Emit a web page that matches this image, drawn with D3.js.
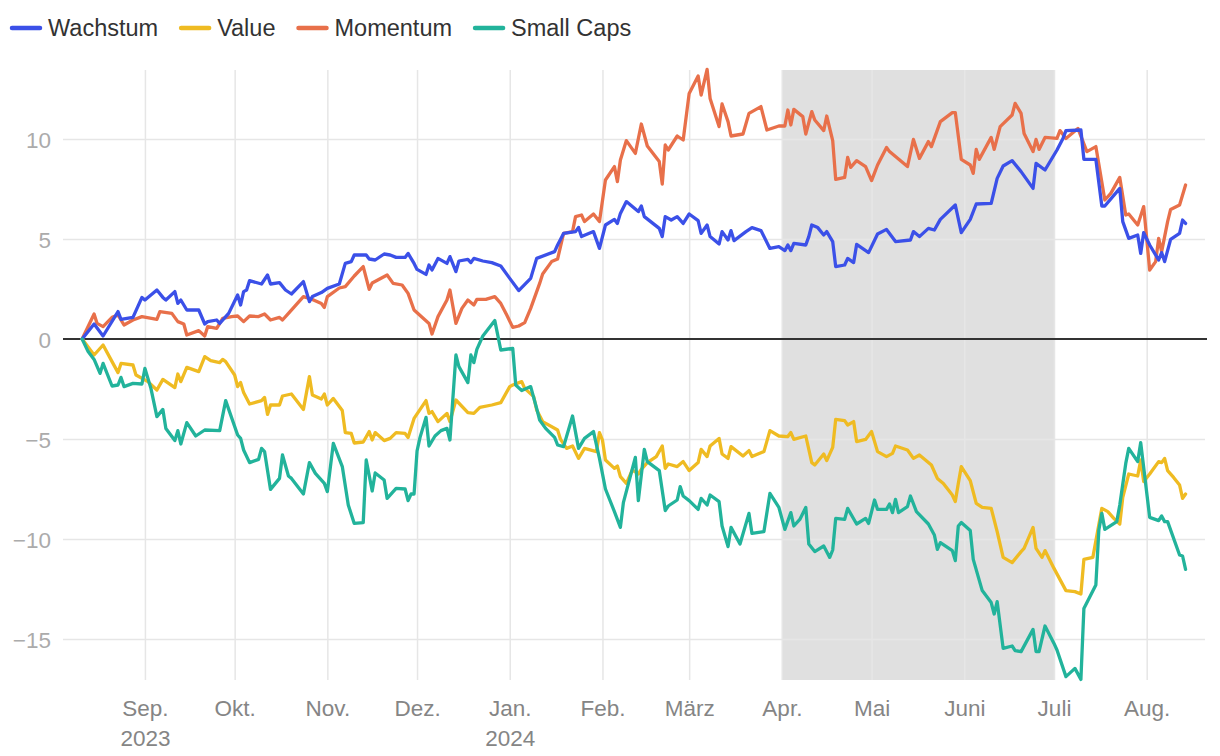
<!DOCTYPE html>
<html><head><meta charset="utf-8">
<script src="https://cdn.jsdelivr.net/npm/d3@7"></script>
<style>
html,body{margin:0;padding:0;background:#fff;}
svg{display:block;font-family:"Liberation Sans",Arial,sans-serif;}
</style></head>
<body><svg id="c" width="1220" height="756"></svg>
<script>
// ---- data (day offsets from startDate, value in %) ----
const startDate = "2023-08-11";
const seriesNames = ["Wachstum", "Value", "Momentum", "Small Caps"];
const seriesColors = ["#3b50e8", "#efbb22", "#e8704a", "#22b39b"];
const monthLabels = ["Sep.", "Okt.", "Nov.", "Dez.", "Jan.", "Feb.", "März", "Apr.", "Mai", "Juni", "Juli", "Aug."];
const yearLabels = {"Sep.": "2023", "Jan.": "2024"};
const yTicks = [-15, -10, -5, 0, 5, 10];
const shadedPeriod = ["2024-04-01", "2024-07-01"];

const wachstum = [[0,0],[4,0.75],[7,0.15],[12,1.37],[13,0.98],[17,1.08],[20,2.08],[21,1.95],[25,2.45],[27,2.08],[28,1.95],[31,2.37],[32,1.78],[33,1.95],[35,1.45],[39,1.45],[41,0.75],[42,0.87],[45,0.95],[46,0.78],[49,1.28],[52,2.2],[53,1.7],[54,2.37],[55,2.45],[56,2.92],[60,2.75],[62,3.2],[63,2.75],[66,2.82],[68,2.45],[70,2.25],[74,2.87],[76,1.87],[77,2.12],[80,2.32],[82,2.53],[86,2.75],[88,3.78],[90,3.87],[91,4.2],[95,4.2],[96,4.0],[98,3.95],[101,4.25],[103,4.2],[105,4.08],[108,4.08],[109,4.28],[111,3.78],[112,3.48],[115,3.23],[116,3.7],[117,3.45],[119,4.03],[122,3.78],[123,4.12],[125,3.37],[126,3.9],[129,3.98],[130,3.82],[131,4.03],[134,3.9],[137,3.82],[140,3.65],[143,3.03],[146,2.42],[150,3.03],[152,4.03],[158,4.37],[159,4.7],[161,5.28],[165,5.37],[166,5.58],[167,5.12],[171,5.37],[173,4.53],[175,5.7],[178,5.98],[179,5.78],[180,6.28],[182,6.87],[186,6.37],[187,6.65],[188,6.12],[193,5.53],[194,5.12],[195,6.12],[197,5.95],[199,6.12],[201,5.78],[203,6.25],[206,5.92],[207,5.28],[209,5.7],[210,5.12],[213,4.75],[214,5.37],[216,4.95],[217,5.42],[218,4.92],[222,5.37],[224,5.57],[227,5.42],[230,4.53],[233,4.62],[235,4.42],[236,4.7],[237,4.42],[238,4.78],[242,4.7],[243,5.12],[244,5.7],[246,5.57],[248,5.2],[249,5.37],[251,4.87],[252,3.62],[255,3.7],[256,4.03],[258,3.82],[259,4.73],[263,4.32],[266,5.25],[269,5.48],[272,4.87],[277,4.95],[278,5.37],[280,5.12],[283,5.53],[285,5.45],[287,5.98],[292,6.7],[294,5.32],[297,5.98],[299,6.75],[304,6.78],[306,8.03],[308,8.65],[311,8.92],[314,8.37],[318,7.53],[319,8.78],[322,8.45],[326,9.45],[328,10.03],[329,10.42],[334,10.45],[335,8.98],[339,8.98],[341,6.65],[342,6.65],[347,7.53],[348,5.87],[350,5.03],[353,5.2],[354,4.28],[355,5.32],[357,4.7],[360,3.95],[361,4.32],[362,3.87],[364,4.98],[367,5.28],[368,5.95],[369,5.78]];

const value = [[0,0],[4,-0.8],[7,-0.3],[10,-1.13],[12,-1.68],[13,-1.22],[17,-1.3],[18,-1.8],[22,-2.13],[25,-2.55],[27,-2.02],[31,-2.43],[32,-1.75],[33,-2.13],[35,-1.42],[39,-1.63],[41,-0.88],[43,-1.08],[46,-1.18],[47,-1.02],[48,-1.13],[51,-1.8],[52,-2.38],[53,-2.18],[54,-2.68],[56,-3.25],[60,-3.08],[61,-2.92],[62,-3.77],[63,-3.3],[66,-3.3],[67,-2.85],[70,-2.75],[74,-3.52],[76,-1.88],[77,-2.8],[80,-3.0],[81,-2.75],[82,-3.3],[84,-2.97],[87,-3.58],[88,-4.68],[90,-4.72],[91,-5.2],[94,-5.15],[96,-4.63],[97,-5.05],[98,-4.68],[101,-5.08],[103,-4.97],[105,-4.68],[108,-4.72],[109,-4.92],[111,-3.97],[115,-3.08],[116,-3.72],[117,-3.63],[119,-4.13],[122,-3.72],[123,-4.13],[125,-3.05],[129,-3.68],[131,-3.72],[133,-3.42],[137,-3.3],[140,-3.18],[143,-2.38],[144,-2.3],[147,-2.13],[148,-2.47],[151,-2.88],[152,-3.55],[154,-4.13],[159,-4.55],[160,-5.02],[162,-5.47],[164,-5.35],[166,-5.97],[168,-5.47],[172,-5.63],[173,-4.68],[174,-5.05],[175,-6.05],[178,-6.47],[179,-6.35],[180,-6.88],[182,-7.22],[184,-6.55],[186,-6.75],[187,-6.52],[189,-6.18],[192,-5.88],[194,-5.35],[195,-6.47],[196,-6.25],[199,-6.38],[201,-6.13],[203,-6.58],[206,-6.18],[207,-5.52],[209,-5.88],[210,-5.35],[213,-4.97],[214,-5.75],[216,-5.97],[217,-5.38],[221,-5.85],[223,-5.58],[224,-5.88],[228,-5.63],[230,-4.58],[233,-4.85],[236,-4.88],[237,-4.68],[238,-5.02],[242,-4.85],[244,-6.18],[245,-6.3],[248,-5.75],[249,-6.08],[251,-5.42],[252,-4.02],[255,-4.08],[256,-4.3],[258,-4.13],[259,-5.13],[262,-5.02],[264,-4.63],[266,-5.63],[269,-5.88],[271,-5.72],[272,-5.35],[276,-5.55],[278,-5.97],[280,-5.8],[284,-6.3],[286,-6.97],[288,-7.22],[291,-7.8],[292,-8.13],[293,-7.22],[294,-6.38],[297,-7.08],[299,-8.22],[301,-8.42],[304,-8.47],[306,-9.63],[308,-10.92],[311,-11.18],[314,-10.63],[315,-10.47],[318,-9.42],[319,-10.47],[321,-10.92],[322,-10.58],[325,-11.47],[329,-12.58],[332,-12.63],[334,-12.75],[335,-11.02],[338,-10.92],[341,-8.47],[343,-8.63],[345,-8.97],[347,-9.25],[348,-7.92],[350,-6.75],[353,-6.85],[354,-6.05],[355,-7.13],[357,-6.75],[360,-6.13],[361,-6.18],[362,-5.97],[363,-6.58],[365,-6.92],[367,-7.3],[368,-7.97],[369,-7.75]];

const momentum = [[0,0],[4,1.25],[5,0.78],[7,0.62],[10,1.08],[12,1.2],[14,0.7],[17,0.95],[20,1.12],[25,0.98],[26,1.37],[30,1.28],[32,0.87],[34,0.75],[35,0.2],[39,0.42],[41,0.15],[42,0.62],[45,0.53],[47,1.03],[50,1.12],[52,1.15],[54,0.87],[56,1.15],[59,1.12],[61,1.25],[63,0.95],[66,1.08],[67,0.95],[69,1.28],[74,2.12],[77,1.98],[80,1.78],[81,1.58],[82,2.12],[86,2.55],[88,2.62],[91,3.15],[94,3.62],[96,2.48],[97,2.8],[102,3.2],[104,2.78],[107,2.7],[109,2.28],[111,1.45],[116,0.78],[117,0.25],[119,1.12],[122,1.95],[123,2.45],[125,0.78],[127,1.53],[129,1.95],[131,1.7],[132,1.98],[135,1.98],[138,2.12],[140,1.78],[142,1.2],[144,0.58],[146,0.65],[148,0.82],[150,1.53],[153,2.78],[154,3.25],[157,3.87],[159,4.0],[161,5.28],[164,5.37],[165,6.12],[167,6.2],[168,5.87],[171,6.25],[173,5.87],[175,7.95],[178,8.62],[179,7.87],[180,8.95],[182,9.92],[185,9.28],[187,10.75],[189,9.65],[193,8.87],[194,7.75],[195,9.7],[196,9.45],[199,10.15],[201,9.95],[203,12.28],[206,13.15],[207,12.2],[209,13.48],[210,12.03],[213,10.62],[214,11.75],[216,10.87],[217,10.15],[221,10.25],[223,11.28],[227,11.62],[229,10.45],[233,10.65],[235,10.65],[236,11.45],[237,10.7],[238,11.48],[241,11.12],[242,10.25],[244,11.37],[245,10.95],[248,10.42],[249,11.15],[251,9.92],[252,7.98],[255,8.08],[256,9.08],[257,8.58],[259,8.92],[262,8.62],[264,7.92],[266,8.7],[269,9.58],[270,9.37],[272,9.12],[276,8.62],[278,9.98],[280,9.03],[283,9.87],[284,9.62],[287,10.87],[291,11.32],[292,11.32],[294,8.98],[297,8.7],[298,8.28],[299,9.48],[300,8.98],[304,10.08],[305,9.48],[307,10.62],[311,11.2],[312,11.78],[314,11.28],[315,10.28],[318,9.37],[319,9.98],[320,9.48],[322,10.08],[326,10.03],[327,10.42],[329,10.03],[333,10.53],[336,9.37],[339,9.62],[342,6.95],[344,7.28],[347,8.08],[349,6.2],[350,6.25],[353,5.7],[355,6.62],[357,3.45],[359,3.87],[360,5.03],[361,4.37],[363,5.87],[364,6.48],[367,6.7],[369,7.7]];

const smallCaps = [[0,0],[2,-0.63],[4,-1.02],[6,-1.72],[7,-1.22],[10,-2.35],[12,-2.3],[13,-1.92],[14,-2.38],[17,-2.22],[20,-2.25],[21,-1.47],[23,-2.47],[25,-3.88],[27,-3.52],[28,-4.47],[31,-5.08],[32,-4.58],[33,-5.25],[35,-4.18],[38,-4.85],[41,-4.55],[46,-4.58],[48,-3.08],[52,-4.8],[53,-4.97],[54,-5.55],[56,-6.18],[59,-6.02],[60,-5.47],[61,-5.63],[63,-7.52],[66,-6.97],[67,-5.8],[69,-6.85],[70,-6.97],[74,-7.75],[76,-6.18],[78,-6.72],[81,-7.22],[82,-7.63],[84,-5.22],[87,-6.38],[89,-8.3],[91,-9.22],[94,-9.18],[95,-6.05],[97,-7.6],[98,-6.7],[101,-7.05],[102,-7.97],[105,-7.47],[108,-7.5],[109,-8.08],[110,-7.75],[111,-7.75],[112,-5.6],[113,-4.92],[115,-3.92],[116,-5.35],[118,-4.85],[120,-4.58],[122,-4.47],[123,-5.05],[125,-0.8],[126,-1.38],[129,-2.18],[130,-0.8],[131,-1.18],[132,-0.52],[134,0.15],[138,0.92],[140,-0.55],[144,-0.47],[145,-2.3],[147,-2.58],[150,-2.38],[152,-3.47],[153,-4.05],[155,-4.47],[158,-4.92],[159,-5.3],[161,-5.38],[164,-3.85],[166,-5.47],[168,-4.97],[171,-4.63],[173,-5.97],[175,-7.5],[178,-8.63],[180,-9.42],[181,-8.18],[185,-5.92],[186,-8.08],[188,-5.52],[189,-6.13],[193,-6.58],[195,-8.58],[196,-8.35],[199,-8.05],[200,-7.38],[201,-7.85],[203,-8.08],[206,-8.52],[207,-7.97],[209,-8.3],[210,-7.8],[213,-8.13],[214,-9.35],[216,-10.38],[217,-9.42],[220,-10.25],[223,-8.72],[224,-9.72],[228,-9.63],[230,-7.72],[233,-8.42],[235,-9.52],[237,-8.68],[238,-9.35],[240,-9.02],[242,-8.42],[243,-10.25],[245,-10.63],[248,-10.35],[250,-10.92],[251,-10.55],[252,-8.97],[255,-9.02],[256,-8.47],[259,-9.25],[262,-8.97],[263,-9.22],[265,-8.05],[266,-8.52],[269,-8.52],[270,-8.25],[271,-8.68],[272,-8.02],[273,-8.68],[276,-8.38],[277,-7.85],[279,-8.63],[283,-9.25],[285,-9.8],[286,-10.52],[287,-10.18],[291,-10.58],[292,-11.08],[293,-9.35],[294,-9.18],[297,-9.58],[298,-11.02],[301,-12.58],[304,-13.18],[305,-13.75],[306,-13.13],[308,-15.47],[311,-15.35],[312,-15.58],[314,-15.63],[318,-14.52],[319,-15.63],[320,-15.63],[322,-14.35],[325,-15.22],[326,-15.55],[329,-16.88],[332,-16.47],[334,-17.02],[335,-13.47],[339,-12.3],[340,-9.55],[341,-8.72],[342,-9.52],[346,-9.13],[347,-8.3],[349,-6.22],[350,-5.47],[353,-6.13],[354,-5.18],[357,-8.92],[360,-9.08],[361,-8.85],[362,-9.13],[363,-9.13],[367,-10.8],[368,-10.85],[369,-11.52]];

const seriesData = [wachstum, value, momentum, smallCaps];
const drawOrder = [1, 2, 0, 3];

// ---- layout ----
const svg = d3.select("#c");
const M = {left: 63, right: 1205, top: 70, bottom: 680};
const parseUTC = d3.utcParse("%Y-%m-%d");
const t0 = parseUTC(startDate);
const dayMs = 864e5;
const toDate = d => new Date(t0.getTime() + d * dayMs);

const x = d3.scaleUtc()
  .domain([toDate(-6.4), toDate(375.5)])
  .range([M.left, M.right]);
const y = d3.scaleLinear()
  .domain([-17.05, 13.45])
  .range([M.bottom, M.top]);

// shaded period
svg.append("rect")
  .attr("x", x(parseUTC(shadedPeriod[0])))
  .attr("y", M.top)
  .attr("width", x(parseUTC(shadedPeriod[1])) - x(parseUTC(shadedPeriod[0])))
  .attr("height", M.bottom - M.top)
  .attr("fill", "#e0e0e0");

// vertical gridlines + month labels
const months = d3.utcMonth.range(parseUTC("2023-09-01"), parseUTC("2024-08-02"));
const xAxis = d3.axisBottom(x)
  .tickValues(months)
  .tickSize(-(M.bottom - M.top))
  .tickFormat((d, i) => monthLabels[i]);
const gx = svg.append("g").attr("transform", `translate(0,${M.bottom})`).call(xAxis);
gx.select(".domain").remove();
gx.selectAll(".tick line").attr("stroke", "#e6e6e6").attr("stroke-width", 1.5);
gx.selectAll(".tick text")
  .attr("fill", "#858585")
  .attr("font-size", 22.5)
  .attr("y", 36)
  .attr("dy", 0)
  .each(function(d, i) {
    const lab = monthLabels[i];
    if (yearLabels[lab]) {
      d3.select(this).append("tspan").attr("x", 0).attr("dy", 30).text(yearLabels[lab]);
    }
  });

// horizontal gridlines + y labels
const yAxis = d3.axisLeft(y)
  .tickValues(yTicks)
  .tickSize(-(M.right - M.left))
  .tickPadding(12)
  .tickFormat(d => d < 0 ? "\u2212" + Math.abs(d) : String(d));
const gy = svg.append("g").attr("transform", `translate(${M.left},0)`).call(yAxis);
gy.select(".domain").remove();
gy.selectAll(".tick line").attr("stroke", "#e6e6e6").attr("stroke-width", 1.5)
  .filter(d => d === 0).attr("stroke", "none");
gy.selectAll(".tick text").attr("fill", "#ababab").attr("font-size", 22.5).attr("dy", "0.36em");

// zero line
svg.append("line")
  .attr("x1", M.left).attr("x2", M.right + 2)
  .attr("y1", y(0)).attr("y2", y(0))
  .attr("stroke", "#333").attr("stroke-width", 2);

// lines
const line = d3.line()
  .x(p => x(toDate(p[0])))
  .y(p => y(p[1]))
  .curve(d3.curveLinear);
drawOrder.forEach(i => {
  svg.append("path")
    .datum(seriesData[i])
    .attr("d", line)
    .attr("fill", "none")
    .attr("stroke", seriesColors[i])
    .attr("stroke-width", 3.3)
    .attr("stroke-linejoin", "round")
    .attr("stroke-linecap", "round");
});

// legend
const lg = svg.append("g");
let lx = 10;
seriesNames.forEach((name, i) => {
  lg.append("line")
    .attr("x1", lx + 2).attr("x2", lx + 30)
    .attr("y1", 28).attr("y2", 28)
    .attr("stroke", seriesColors[i]).attr("stroke-width", 4.5)
    .attr("stroke-linecap", "round");
  const t = lg.append("text")
    .attr("x", lx + 38).attr("y", 28).attr("dy", "0.36em")
    .attr("font-size", 23.5).attr("fill", "#333")
    .text(name);
  lx += 38 + t.node().getComputedTextLength() + 21;
});
</script>
</body></html>
